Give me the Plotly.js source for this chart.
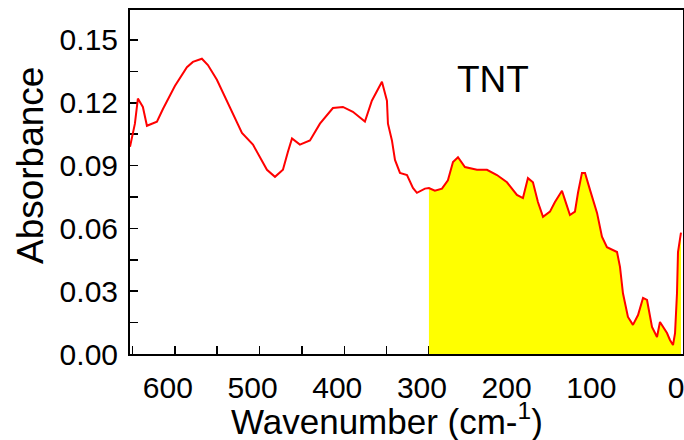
<!DOCTYPE html>
<html>
<head>
<meta charset="utf-8">
<script src="https://cdn.plot.ly/plotly-3.0.1.min.js"></script>
<style>html,body{margin:0;padding:0;background:#fff;}#chart{width:684px;height:440px;}</style>
</head>
<body>
<div id="chart"></div>
<script>
// Wavenumber (cm-1) and absorbance
const wavenumber = [653, 647.2, 643.7, 637.8, 633.0, 621.2, 614.1, 600, 585.8, 578.7, 568.1, 561.0, 550.4, 535.0, 520.8, 507.8, 491.3, 481.8, 472.4, 466.5, 461.7, 452.4, 440.5, 428.7, 413.4, 401.6, 389.8, 375.6, 367.4, 355.5, 349.6, 348.4, 343.7, 340.1, 334.2, 325.9, 318.9, 314.2, 304.7, 300, 293.0, 284.6, 277.6, 271.6, 265.7, 257.5, 243.3, 231.5, 219.7, 207.9, 196.1, 189.0, 183.1, 177.2, 171.3, 165.3, 157.1, 151.2, 142.9, 139.4, 133.5, 127.6, 124.0, 119.3, 115.7, 109.8, 101.5, 95.7, 89.8, 77.9, 74.4, 70.9, 65.0, 59.1, 53.1, 47.2, 42.5, 36.6, 30.7, 27.2, 23.6, 18.9, 15.4, 11.8, 9.4, 7.1, 5.9, 2.4];
const absorbance = [0.099, 0.110, 0.122, 0.118, 0.109, 0.111, 0.117, 0.128, 0.137, 0.1395, 0.141, 0.138, 0.131, 0.118, 0.1056, 0.100, 0.088, 0.0846, 0.088, 0.0966, 0.103, 0.100, 0.102, 0.110, 0.1175, 0.118, 0.1157, 0.111, 0.121, 0.130, 0.121, 0.110, 0.102, 0.0927, 0.0865, 0.0855, 0.0793, 0.077, 0.079, 0.0793, 0.078, 0.079, 0.083, 0.0917, 0.094, 0.0893, 0.088, 0.088, 0.0855, 0.082, 0.076, 0.0745, 0.084, 0.082, 0.0726, 0.0655, 0.068, 0.0726, 0.078, 0.0736, 0.0664, 0.068, 0.077, 0.0865, 0.0865, 0.0784, 0.0674, 0.056, 0.051, 0.0487, 0.0416, 0.029, 0.0177, 0.0139, 0.0186, 0.0268, 0.0258, 0.0129, 0.0081, 0.0153, 0.0129, 0.010, 0.0067, 0.0043, 0.010, 0.029, 0.0487, 0.058];
const fillStart = 300;
const xTickVals = [600, 500, 400, 300, 200, 100, 0];
const xTickText = ['600', '500', '400', '300', '200', '100', '0'];
const yTickVals = [0.00, 0.03, 0.06, 0.09, 0.12, 0.15];
const yTickText = ['0.00', '0.03', '0.06', '0.09', '0.12', '0.15'];
const label = 'TNT';
const xTitle = 'Wavenumber (cm-<sup>1</sup>)';
const yTitle = 'Absorbance';

const fx = [], fy = [];
for (let i = 0; i < wavenumber.length; i++) {
  if (wavenumber[i] <= fillStart) { fx.push(wavenumber[i]); fy.push(absorbance[i]); }
}

const font = 'Liberation Sans, Arial, sans-serif';
const traces = [
  {x: fx, y: fy, type: 'scatter', mode: 'none', fill: 'tozeroy', fillcolor: '#ffff00', hoverinfo: 'skip'},
  {x: wavenumber, y: absorbance, type: 'scatter', mode: 'lines', line: {color: '#ff0000', width: 2}}
];
const layout = {
  width: 684, height: 440,
  margin: {l: 130, r: 1, t: 10, b: 86},
  paper_bgcolor: '#ffffff', plot_bgcolor: '#ffffff',
  showlegend: false,
  font: {family: font, color: '#000'},
  xaxis: {
    range: [653, 0], showgrid: false, zeroline: false,
    showline: true, linecolor: '#000', linewidth: 2, mirror: true,
    ticks: 'inside', ticklen: 8, tickwidth: 1.5, tickcolor: '#000',
    tickvals: xTickVals, ticktext: xTickText,
    tickfont: {size: 30, family: font}, ticklabelstandoff: 6,
    ticklabelshift: 7, ticklabeloverflow: 'allow',
    minor: {dtick: 50, ticks: 'inside', ticklen: 8, tickwidth: 1.5, tickcolor: '#000'},
    layer: 'below traces'
  },
  yaxis: {
    range: [0, 0.1643], showgrid: false, zeroline: false,
    showline: true, linecolor: '#000', linewidth: 2, mirror: true,
    ticks: 'inside', ticklen: 8, tickwidth: 1.5, tickcolor: '#000',
    tickvals: yTickVals, ticktext: yTickText,
    tickfont: {size: 30, family: font}, ticklabelstandoff: 4,
    minor: {dtick: 0.015, ticks: 'inside', ticklen: 8, tickwidth: 1.5, tickcolor: '#000'},
    layer: 'below traces'
  },
  annotations: [
    {x: 224, y: 0.131, xref: 'x', yref: 'y', text: label, showarrow: false,
      font: {size: 37, family: font, color: '#000'}, xanchor: 'center', yanchor: 'middle'},
    {x: 0.4647, y: -0.189, xref: 'paper', yref: 'paper', text: xTitle, showarrow: false,
      font: {size: 35, family: font, color: '#000'}, xanchor: 'center', yanchor: 'middle'},
    {x: -0.181, y: 0.549, xref: 'paper', yref: 'paper', text: yTitle, showarrow: false, textangle: -90,
      font: {size: 37, family: font, color: '#000'}, xanchor: 'center', yanchor: 'middle'}
  ]
};
Plotly.newPlot('chart', traces, layout, {displayModeBar: false, staticPlot: true});
</script>
</body>
</html>
